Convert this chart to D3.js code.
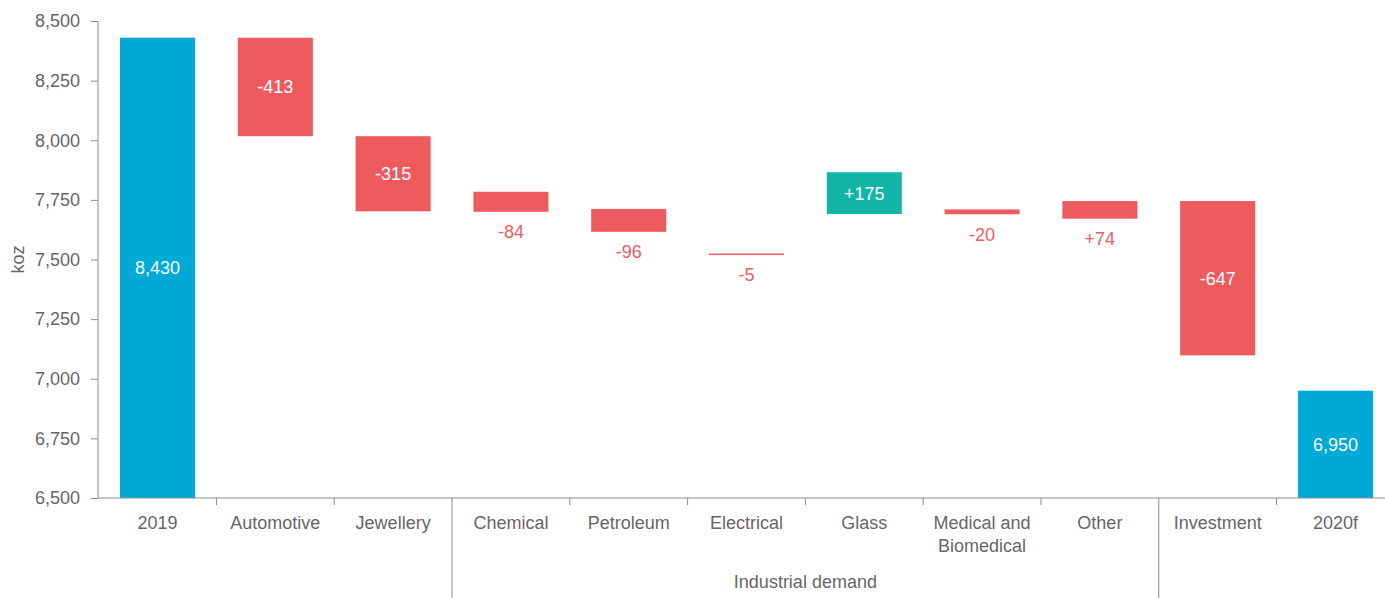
<!DOCTYPE html>
<html>
<head>
<meta charset="utf-8">
<script src="https://cdn.jsdelivr.net/npm/d3@7"></script>
<style>
  html, body { margin: 0; padding: 0; background: #fff; }
  svg text { font-family: "Liberation Sans", Arial, sans-serif; }
</style>
</head>
<body>
<svg id="chart" width="1385" height="598"></svg>
<script>
// ---- data ----
const categories = ["2019", "Automotive", "Jewellery", "Chemical", "Petroleum", "Electrical", "Glass", "Medical and Biomedical", "Other", "Investment", "2020f"];
const categoryLines = [["2019"], ["Automotive"], ["Jewellery"], ["Chemical"], ["Petroleum"], ["Electrical"], ["Glass"], ["Medical and", "Biomedical"], ["Other"], ["Investment"], ["2020f"]];
const barFrom = [6500, 8430, 8017, 7700, 7712, 7525, 7691, 7710, 7671, 7745, 6500];
const barTo   = [8430, 8017, 7702, 7784, 7616, 7520, 7866, 7690, 7745, 7098, 6950];
const valueLabels = ["8,430", "-413", "-315", "-84", "-96", "-5", "+175", "-20", "+74", "-647", "6,950"];
const barKind = ["total", "down", "down", "down", "down", "down", "up", "down", "down", "down", "total"];
const labelInside = [true, true, true, false, false, false, true, false, false, true, true];
const yTicks = [6500, 6750, 7000, 7250, 7500, 7750, 8000, 8250, 8500];
const groups = [{ name: "Industrial demand", from: "Chemical", to: "Other" }];
const separatorsAfter = ["Jewellery", "Other"];

const colors = { total: "#00a9d6", down: "#ee5b5f", up: "#13b5a8" };
const textGray = "#666666";
const axisGray = "#8c8c8c";
const fontSize = "18px";

const svg = d3.select("#chart");
const plotLeft = 98, plotTop = 21, plotBottom = 498;

const x = d3.scaleBand().domain(categories).range([plotLeft, 1395])
  .paddingInner(0.363).paddingOuter(0.187);
const y = d3.scaleLinear().domain([6500, 8500]).range([plotBottom, plotTop]);

// y axis
const yAxis = svg.append("g").attr("transform", `translate(${plotLeft},0)`)
  .call(d3.axisLeft(y).tickValues(yTicks).tickFormat(d3.format(",")).tickSize(7).tickPadding(11));
yAxis.select(".domain").attr("stroke", axisGray).attr("d", `M0,${plotTop}V${plotBottom}`);
yAxis.selectAll(".tick line").attr("stroke", axisGray);
yAxis.selectAll(".tick text").attr("fill", textGray).style("font-size", fontSize);

svg.append("text")
  .attr("transform", `translate(18,${(plotTop + plotBottom) / 2}) rotate(-90)`)
  .attr("text-anchor", "middle")
  .attr("dy", "0.36em")
  .attr("fill", textGray).style("font-size", fontSize)
  .text("koz");

// bars
const idx = d3.range(categories.length);
svg.append("g").selectAll("rect").data(idx).join("rect")
  .attr("x", i => x(categories[i]))
  .attr("width", x.bandwidth())
  .attr("y", i => y(Math.max(barFrom[i], barTo[i])))
  .attr("height", i => Math.max(1.5, Math.abs(y(barFrom[i]) - y(barTo[i]))))
  .attr("fill", i => colors[barKind[i]]);

// value labels
svg.append("g").selectAll("text").data(idx).join("text")
  .attr("x", i => x(categories[i]) + x.bandwidth() / 2)
  .attr("y", i => {
    const hi = y(Math.max(barFrom[i], barTo[i]));
    const lo = y(Math.min(barFrom[i], barTo[i]));
    return labelInside[i] ? (hi + lo) / 2 : lo + 20;
  })
  .attr("dy", "0.36em")
  .attr("text-anchor", "middle")
  .attr("fill", i => labelInside[i] ? "#ffffff" : colors.down)
  .style("font-size", fontSize)
  .text(i => valueLabels[i]);

// x axis
const xAxisG = svg.append("g").attr("transform", `translate(0,${plotBottom})`)
  .call(d3.axisBottom(x).tickSize(0).tickFormat(""));
xAxisG.select(".domain").attr("stroke", axisGray).attr("d", `M${plotLeft},0H1385`);
xAxisG.selectAll(".tick").each(function (d) {
  const i = categories.indexOf(d);
  const t = d3.select(this).select("text")
    .attr("fill", textGray).style("font-size", fontSize).attr("y", 0).attr("dy", null).text(null);
  categoryLines[i].forEach((line, k) => {
    t.append("tspan").attr("x", 0).attr("y", 25 + k * 23).attr("dy", "0.36em").text(line);
  });
});

// boundary ticks and group separators
const step = x.step();
const gap = step - x.bandwidth();
for (let i = 0; i < categories.length - 1; i++) {
  const bx = x(categories[i]) + x.bandwidth() + gap / 2;
  const isSep = separatorsAfter.includes(categories[i]);
  svg.append("line")
    .attr("x1", bx).attr("x2", bx)
    .attr("y1", plotBottom).attr("y2", isSep ? 598 : plotBottom + 7)
    .attr("stroke", axisGray).attr("stroke-width", 1);
}

// group labels
groups.forEach(g => {
  const x0 = x(g.from) - gap / 2, x1 = x(g.to) + x.bandwidth() + gap / 2;
  svg.append("text")
    .attr("x", (x0 + x1) / 2).attr("y", 582).attr("dy", "0.36em")
    .attr("text-anchor", "middle").attr("fill", textGray).style("font-size", fontSize)
    .text(g.name);
});
</script>
</body>
</html>
